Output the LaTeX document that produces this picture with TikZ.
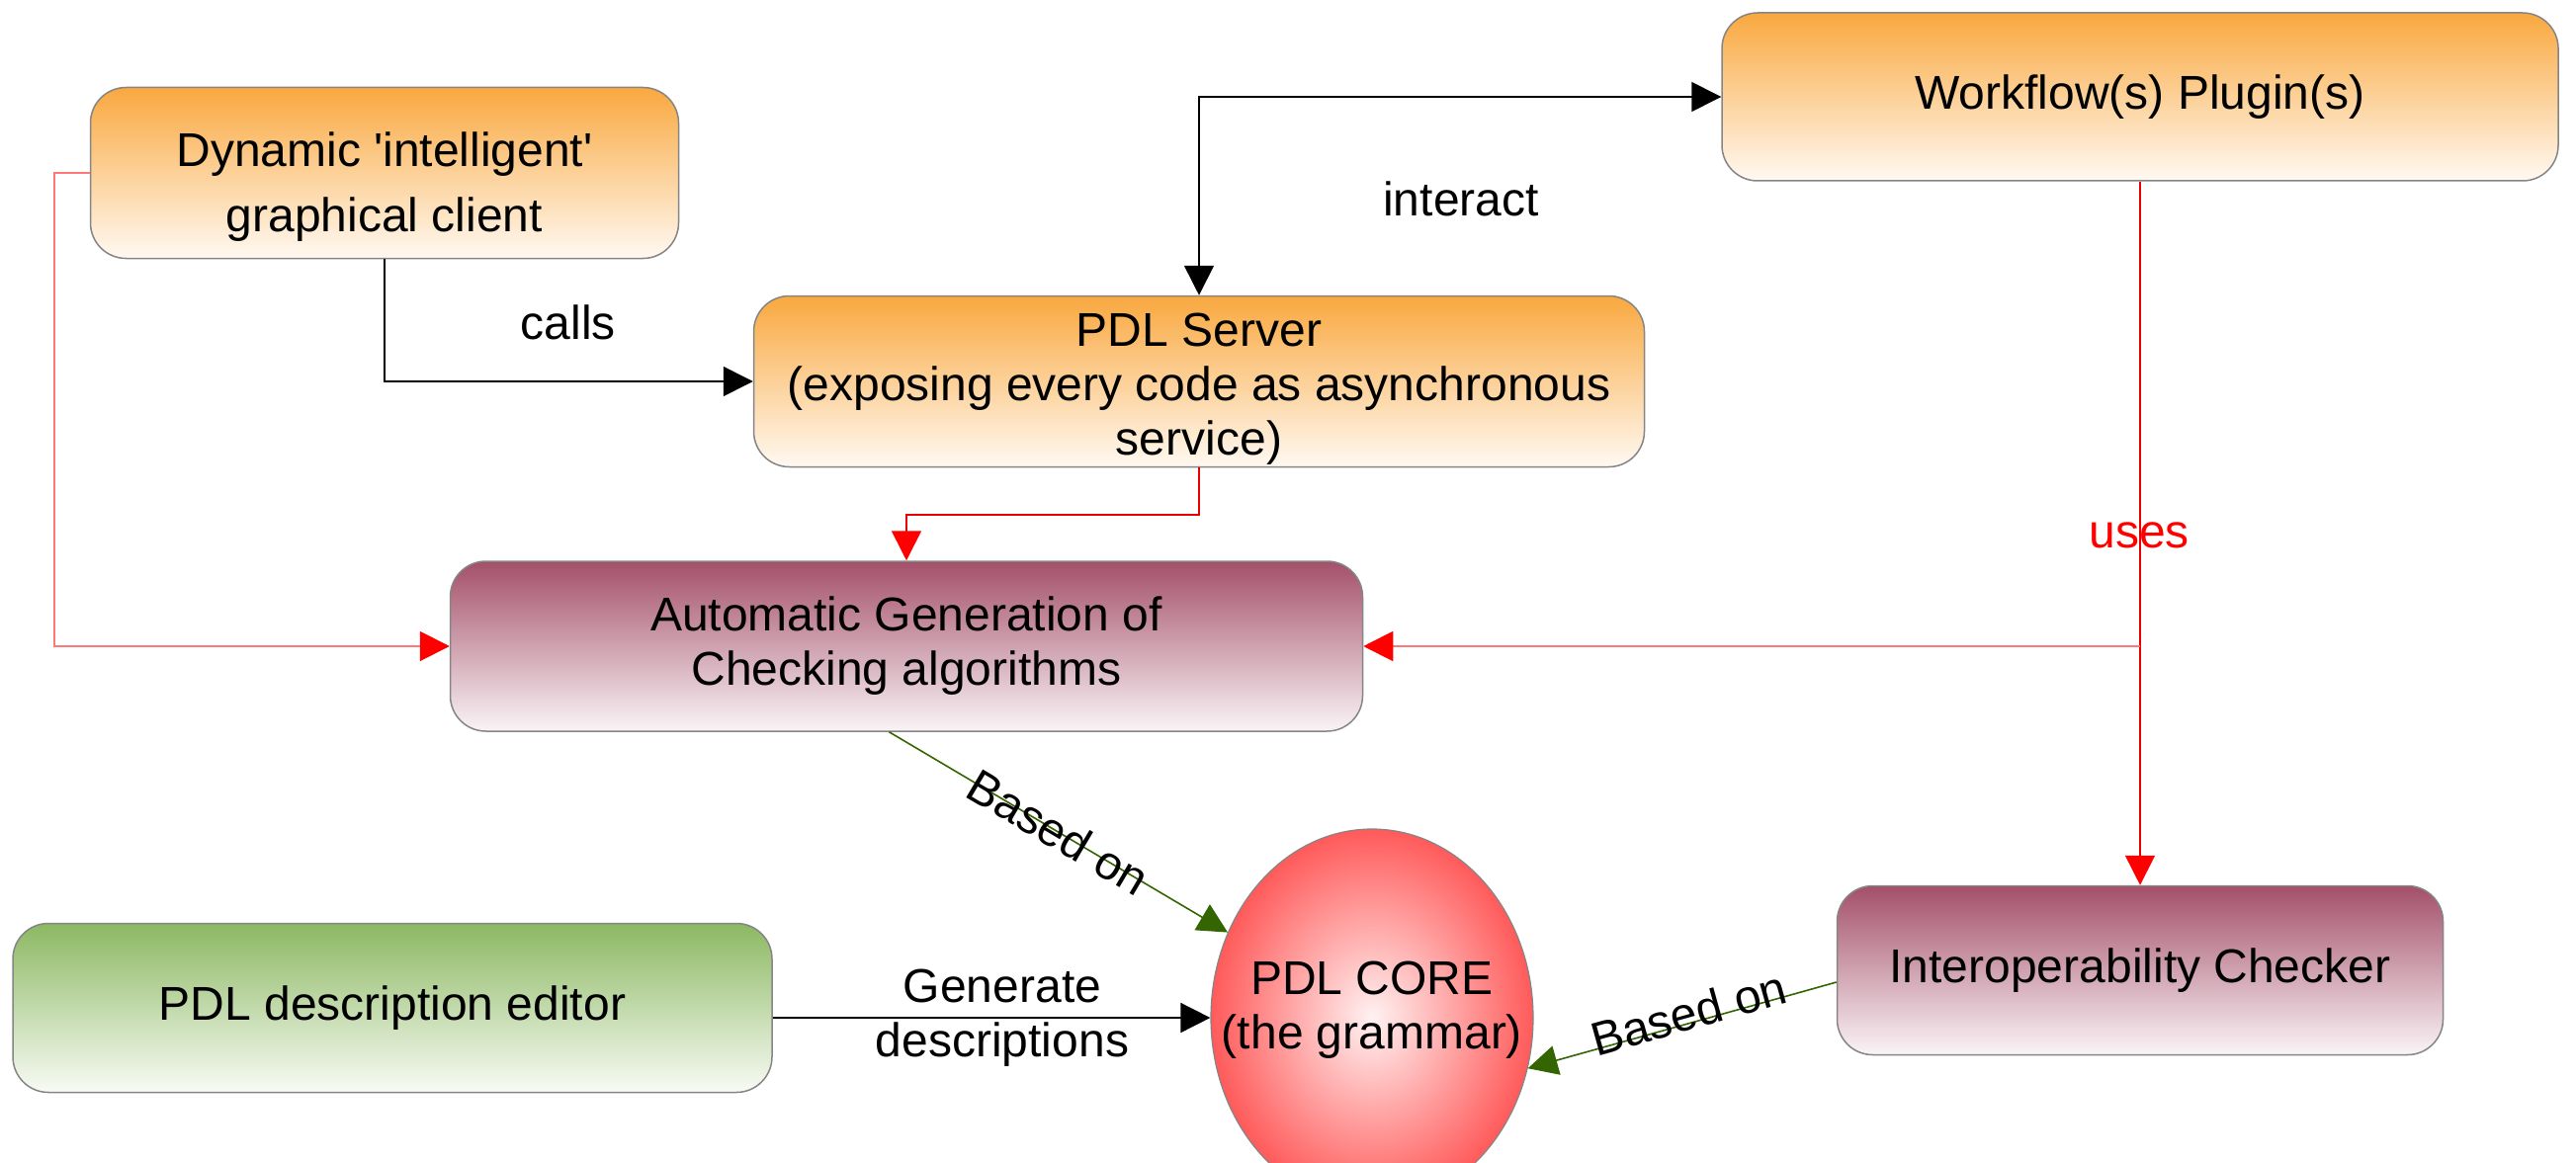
\documentclass[tikz,border=0pt]{standalone}
\usepackage{fontspec}
\setmainfont{Liberation Sans}
\usetikzlibrary{arrows.meta,shapes.geometric,calc}

\definecolor{orangetop}{HTML}{F9A83F}
\definecolor{orangebot}{HTML}{FFF9F2}
\definecolor{maroontop}{HTML}{A4506A}
\definecolor{maroonbot}{HTML}{FAF4F6}
\definecolor{greentop}{HTML}{8CB862}
\definecolor{greenbot}{HTML}{F8FBF5}
\definecolor{edgegray}{HTML}{858585}
\definecolor{linkred}{HTML}{E80000}
\definecolor{lightred}{HTML}{FF7878}
\definecolor{basegreen}{HTML}{336600}
\definecolor{coreinner}{HTML}{FFF2F2}
\definecolor{coreouter}{HTML}{FF5A5A}

\begin{document}
\begin{tikzpicture}[x=1pt,y=-1pt,
  font=\fontsize{48}{55}\selectfont,
  box/.style={draw=edgegray, line width=1.5pt, rounded corners=36pt,
    align=center, inner sep=0pt},
  orangebox/.style={box, top color=orangetop, bottom color=orangebot},
  maroonbox/.style={box, top color=maroontop, bottom color=maroonbot},
  greenbox/.style={box, top color=greentop, bottom color=greenbot},
  blackarrow/.style={line width=1.6pt, draw=black,
    -{Triangle[length=30pt,width=30pt]}},
  redarrow/.style={line width=1.6pt, draw=linkred,
    -{Triangle[length=30pt,width=30pt,color=red]}},
  lightredarrow/.style={line width=2pt, draw=lightred,
    -{Triangle[length=30pt,width=30pt,color=red]}},
  greenarrow/.style={line width=1.6pt, draw=basegreen,
    -{Triangle[length=30pt,width=30pt]}},
  lbl/.style={align=center, inner sep=0pt}
]
\clip (0,0) rectangle (2606,1177);
\useasboundingbox (0,0) rectangle (2606,1177);

% boxes
\node[orangebox, minimum width=595pt, minimum height=173pt] (client) at (389,175)
  {\rule{0pt}{62pt}Dynamic \textquotesingle intelligent\textquotesingle\\[11pt]graphical client};
\node[orangebox, minimum width=846pt, minimum height=170pt] (workflow) at (2165,98)
  {Workflow(s) Plugin(s)};
\node[orangebox, minimum width=901pt, minimum height=173pt] (server) at (1213,386)
  {\rule{0pt}{48pt}PDL Server\\(exposing every code as asynchronous\\service)};
\node[maroonbox, minimum width=923pt, minimum height=172pt] (autogen) at (917,654)
  {Automatic Generation of\\Checking algorithms};
\node[maroonbox, minimum width=613pt, minimum height=171pt] (interop) at (2165,982)
  {Interoperability Checker};
\node[greenbox, minimum width=768pt, minimum height=171pt] (editor) at (397,1020)
  {PDL description editor};

% the grammar core: shaded ellipse with its caption on top
\node[ellipse, draw=edgegray, line width=1.2pt, inner color=coreinner,
  outer color=coreouter, minimum width=326pt, minimum height=382pt,
  inner sep=0pt] (core) at (1388,1030) {};
\node[lbl] (corelbl) at (1388,1022) {PDL CORE\\(the grammar)};

% client calls server
\draw[blackarrow] (client.south) |- (server.west);
\node[lbl] (callslbl) at (575,326) {calls};

% server and workflow interact
\draw[blackarrow, {Triangle[length=30pt,width=30pt]}-{Triangle[length=30pt,width=30pt]}]
  (server.north) |- (workflow.west);
\node[lbl] (interactlbl) at (1478,201) {interact};

% red links into the checking algorithms
\draw[redarrow] (server.south) -- ++(0,48) -| (autogen.north);
\draw[lightredarrow] (client.west) -- ++(-36,0) |- (autogen.west);

% workflow uses
\coordinate (usesjoint) at (workflow.south |- autogen.east);
\draw[redarrow] (workflow.south) -- (interop.north);
\draw[lightredarrow] (usesjoint) -- (autogen.east);
\node[lbl, text=red] (useslbl) at (2164,542) {uses};

% based on the grammar
\coordinate (agfoot) at ($(autogen.south west)!0.481!(autogen.south east)$);
\draw[greenarrow] (agfoot) -- (core)
  node[lbl, sloped, pos=0.5, text=black] (based1) {Based on};
\coordinate (icfoot) at ($(interop.west)+(0,12)$);
\draw[greenarrow] (icfoot) -- (core.-18)
  node[lbl, sloped, pos=0.47, yshift=10pt, text=black] (based2) {Based on};

% editor generates descriptions
\draw[blackarrow] (editor.east |- core.west) -- (core.west);
\node[lbl] (genlbl) at (1014,1030) {Generate\\descriptions};
\end{tikzpicture}
\end{document}
